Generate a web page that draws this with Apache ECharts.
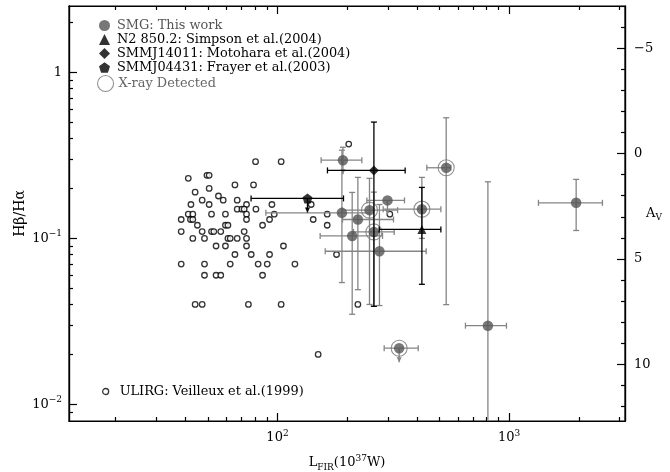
<!DOCTYPE html>
<html><head><meta charset="utf-8">
<script src="https://cdn.jsdelivr.net/npm/echarts@6/dist/echarts.min.js"></script>
<style>html,body{margin:0;padding:0;background:#fff}#c{width:670px;height:472px}</style>
</head><body><div id="c"></div>
<script>
// ---------------- data ----------------
// ULIRG: Veilleux et al.(1999)
const ulirgL = [203, 80.4, 103.7, 49.6, 50.7, 41.2, 65.5, 78.8, 50.7, 44.1, 55.6,
  47.3, 58.3, 67.0,
  42.3, 50.7, 73.5, 94.6, 139.8,
  67.0, 70.2, 71.8, 80.7,
  41.2, 43.1, 51.9, 59.6, 73.5, 96.8, 163.9, 305.5,
  38.4, 42.1, 43.1, 73.5, 92.4, 142.6,
  45.1, 59.6, 61.1, 86.2, 163.9,
  38.4, 47.3, 51.9, 53.1, 56.9, 71.8,
  43.1, 48.4, 61.1, 62.5, 67.0, 73.5,
  54.3, 59.6, 73.5, 106.1,
  65.5, 77.0, 92.4, 179.8,
  38.4, 48.4, 62.5, 82.5, 90.3, 118.9,
  48.4, 54.3, 56.9, 86.2,
  44.1, 47.3, 74.9, 103.7, 222.3,
  149.8];
const ulirgR = [0.37, 0.29, 0.29, 0.24, 0.24, 0.23, 0.21, 0.21, 0.20, 0.19, 0.18,
  0.17, 0.17, 0.17,
  0.16, 0.16, 0.16, 0.16, 0.16,
  0.15, 0.15, 0.15, 0.15,
  0.14, 0.14, 0.14, 0.14, 0.14, 0.14, 0.14, 0.14,
  0.13, 0.13, 0.13, 0.13, 0.13, 0.13,
  0.12, 0.12, 0.12, 0.12, 0.12,
  0.11, 0.11, 0.11, 0.11, 0.11, 0.11,
  0.10, 0.10, 0.10, 0.10, 0.10, 0.10,
  0.09, 0.09, 0.09, 0.09,
  0.08, 0.08, 0.08, 0.08,
  0.07, 0.07, 0.07, 0.07, 0.07, 0.07,
  0.06, 0.06, 0.06, 0.06,
  0.04, 0.04, 0.04, 0.04, 0.04,
  0.02];

// SMG: This work  (L_FIR in 1e37 W, Hbeta/Halpha)
const smgL    = [191.6, 189.7, 222.3, 210.1, 275.5, 298.4, 249.5, 260.7, 420.0, 534.8, 809.4, 335.1, 1946];
const smgR    = [0.296, 0.1425, 0.130, 0.1035, 0.0837, 0.1694, 0.148, 0.1094, 0.150, 0.2664, 0.0298, 0.0218, 0.1638];
const smgLlo  = [154.3, 89.1, 190.8, 152.8, 160.7, 243.1, 190.0, 212.8, 285.9, 441.3, 647.6, 288.7, 1338];
const smgLhi  = [231.3, 250.0, 316.7, 284.0, 438.3, 353.3, 330.0, 319.0, 507.3, 560.0, 973.5, 404.9, 2527];
const smgRlo  = [0, 0.0542, 0.0491, 0.0349, 0.0394, 0, 0.040, 0.039, 0.100, 0.0399, 0.004, 0, 0.1116];
const smgRhi  = [0.354, 0.340, 0.2331, 0.1892, 0.160, 0, 0.230, 0.190, 0.2331, 0.533, 0.2193, 0, 0.2267];
const smgLimit = [1, 0, 0, 0, 0, 1, 0, 0, 0, 0, 0, 1, 0];
const smgXray  = [0, 0, 0, 0, 0, 0, 1, 1, 1, 1, 0, 1, 0];

// Other SMGs from the literature
const otherNames = ['N2 850.2: Simpson et al.(2004)', 'SMMJ14011: Motohara et al.(2004)', 'SMMJ04431: Frayer et al.(2003)'];
const otherL   = [420.0, 260.7, 134.7];
const otherR   = [0.1132, 0.2569, 0.1741];
const otherLlo = [274.8, 164.3, 76.9];
const otherLhi = [507.3, 355.7, 192.7];
const otherRlo = [0.0529, 0.0390, 0];
const otherRhi = [0.2028, 0.5020, 0];
const otherLimit = [0, 0, 1];

// axis ticks
const xMajor = [100, 1000];
const xMinor = [20, 30, 40, 50, 60, 70, 80, 90, 200, 300, 400, 500, 600, 700, 800, 900, 2000, 3000];
const yMajor = [0.01, 0.1, 1];
const yMinor = [0.009, 0.02, 0.03, 0.04, 0.05, 0.06, 0.07, 0.08, 0.09, 0.2, 0.3, 0.4, 0.5, 0.6, 0.7, 0.8, 0.9, 2];
const avMajor = [-5, 0, 5, 10];
const avMinor = [-7, -6, -4, -3, -2, -1, 1, 2, 3, 4, 6, 7, 8, 9, 11, 12];

// ---------------- chart ----------------
const FONT = 'DejaVu Serif';
const SMG_COL = '#555555';
const ERR_COL = '#858585';
const XMIN = Math.pow(10, 1.1), XMAX = Math.pow(10, 3.5);
const YMIN = Math.pow(10, -2.1), YMAX = Math.pow(10, 0.4);

function errRender(color) {
  return function (params, api) {
    const x = api.value(0), y = api.value(1);
    const xlo = api.value(2), xhi = api.value(3), ylo = api.value(4), yhi = api.value(5), lim = api.value(6);
    const p = api.coord([x, y]);
    const st = { stroke: color, lineWidth: 1.3 };
    const ch = [];
    const cap = 3;
    if (xlo > 0 && xhi > 0) {
      const a = api.coord([xlo, y]), b = api.coord([xhi, y]);
      ch.push({ type: 'line', shape: { x1: a[0], y1: a[1], x2: b[0], y2: b[1] }, style: st });
      ch.push({ type: 'line', shape: { x1: a[0], y1: a[1] - cap, x2: a[0], y2: a[1] + cap }, style: st });
      ch.push({ type: 'line', shape: { x1: b[0], y1: b[1] - cap, x2: b[0], y2: b[1] + cap }, style: st });
    }
    if (yhi > 0) {
      const a = api.coord([x, yhi]);
      ch.push({ type: 'line', shape: { x1: p[0], y1: p[1], x2: a[0], y2: a[1] }, style: st });
      ch.push({ type: 'line', shape: { x1: a[0] - cap, y1: a[1], x2: a[0] + cap, y2: a[1] }, style: st });
    }
    if (ylo > 0) {
      const a = api.coord([x, ylo]);
      ch.push({ type: 'line', shape: { x1: p[0], y1: p[1], x2: a[0], y2: a[1] }, style: st });
      ch.push({ type: 'line', shape: { x1: a[0] - cap, y1: a[1], x2: a[0] + cap, y2: a[1] }, style: st });
    }
    if (lim) {
      const L = 14;
      ch.push({ type: 'line', shape: { x1: p[0], y1: p[1], x2: p[0], y2: p[1] + L }, style: st });
      ch.push({ type: 'polygon', shape: { points: [[p[0] - 2.5, p[1] + L - 5], [p[0] + 2.5, p[1] + L - 5], [p[0], p[1] + L]] }, style: { fill: color } });
    }
    return { type: 'group', children: ch };
  };
}

const smgErrData = smgL.map((v, i) => [v, smgR[i], smgLlo[i], smgLhi[i], smgRlo[i], smgRhi[i], smgLimit[i]]);
const otherErrData = otherL.map((v, i) => [v, otherR[i], otherLlo[i], otherLhi[i], otherRlo[i], otherRhi[i], otherLimit[i]]);
const smgPts = smgL.map((v, i) => [v, smgR[i]]);
const xrayPts = smgL.map((v, i) => [v, smgR[i]]).filter((d, i) => smgXray[i]);
const ulirgPts = ulirgL.map((v, i) => [v, ulirgR[i]]);

const PENT = 'path://M0,-1 L0.951,-0.309 L0.588,0.809 L-0.588,0.809 L-0.951,-0.309 Z';

const rich = {
  b: { fontFamily: FONT, fontSize: 13, color: '#000' },
  s: { fontFamily: FONT, fontSize: 9, color: '#000', padding: [0, 0, 9, 0] },
  sub: { fontFamily: FONT, fontSize: 9, color: '#000', padding: [9, 0, 0, 0] }
};

function logAxisX(pos, major, labels) {
  return {
    type: 'log', logBase: 10, min: XMIN, max: XMAX, position: pos, gridIndex: 0,
    nameMoveOverlap: false,
    axisLine: { show: true, onZero: false, lineStyle: { color: '#000', width: 1.2 } },
    axisTick: { show: true, inside: true, length: major ? 8 : 4, customValues: major ? xMajor : xMinor, lineStyle: { color: '#000', width: 1.2 } },
    axisLabel: labels ? {
      show: true, customValues: xMajor, margin: 8, rich: rich,
      formatter: v => '{b|10}{s|' + Math.round(Math.log10(v)) + '}'
    } : { show: false },
    splitLine: { show: false }, minorTick: { show: false }
  };
}
function logAxisY(major, labels) {
  return {
    type: 'log', logBase: 10, min: YMIN, max: YMAX, position: 'left', gridIndex: 0,
    nameMoveOverlap: false,
    axisLine: { show: true, onZero: false, lineStyle: { color: '#000', width: 1.2 } },
    axisTick: { show: true, inside: true, length: major ? 8 : 4, customValues: major ? yMajor : yMinor, lineStyle: { color: '#000', width: 1.2 } },
    axisLabel: labels ? {
      show: true, customValues: yMajor, margin: 7, rich: rich,
      formatter: v => { const e = Math.round(Math.log10(v)); return e === 0 ? '{b|1}' : '{b|10}{s|\u2212' + (-e) + '}'; }
    } : { show: false },
    splitLine: { show: false },
    name: labels ? 'H\u03b2/H\u03b1' : '', nameLocation: 'middle', nameGap: 42, nameRotate: 90,
    nameTextStyle: { fontFamily: FONT, fontSize: 14, color: '#000' }
  };
}
function avAxis(major) {
  return {
    type: 'value', min: -7, max: 12.69, inverse: true, position: 'right', gridIndex: 0,
    nameMoveOverlap: false,
    axisLine: { show: true, onZero: false, lineStyle: { color: '#000', width: 1.2 } },
    axisTick: { show: true, inside: true, length: major ? 8 : 4, customValues: major ? avMajor : avMinor, lineStyle: { color: '#000', width: 1.2 } },
    axisLabel: major ? { show: true, customValues: avMajor, margin: 9, fontFamily: FONT, fontSize: 13, color: '#000',
      formatter: v => (v < 0 ? '\u2212' + (-v) : '' + v) } : { show: false },
    splitLine: { show: false },
    name: major ? '{b|A}{sub|V}' : '', nameLocation: 'middle', nameRotate: 0, nameGap: 21,
    nameTextStyle: { rich: rich, align: 'left' }
  };
}

const xAx0 = logAxisX('bottom', true, true);
xAx0.name = '{b|L}{sub|FIR}{b|(10}{s|37}{b|W)}';
xAx0.nameLocation = 'middle';
xAx0.nameGap = 33;
xAx0.nameTextStyle = { rich: rich };

const option = {
  animation: false,
  backgroundColor: '#fff',
  grid: { left: 69, top: 6, right: 45, bottom: 51, show: true, borderColor: '#000', borderWidth: 1.2,
    containLabel: false, outerBoundsMode: 'none' },
  xAxis: [xAx0, logAxisX('bottom', false, false), logAxisX('top', true, false), logAxisX('top', false, false)],
  yAxis: [logAxisY(true, true), logAxisY(false, false), avAxis(true), avAxis(false)],
  legend: [
    {
      left: 94, top: 14, orient: 'vertical', itemGap: 1, itemWidth: 11, itemHeight: 11,
      textStyle: { fontFamily: FONT, fontSize: 12.9, lineHeight: 13, color: '#000', padding: [0, 0, 0, 2] },
      data: [
        { name: 'SMG: This work', textStyle: { color: SMG_COL } },
        { name: otherNames[0] }, { name: otherNames[1] }, { name: otherNames[2] }
      ]
    },
    {
      left: 92, top: 70, orient: 'vertical', itemWidth: 16, itemHeight: 16,
      textStyle: { fontFamily: FONT, fontSize: 12.9, color: '#666', padding: [0, 0, 0, 0] },
      data: [{ name: 'X-ray Detected', icon: 'circle', itemStyle: { color: '#fff', borderColor: '#777', borderWidth: 1.1 } }]
    },
    {
      left: 97, top: 380, orient: 'vertical', itemWidth: 6, itemHeight: 6,
      textStyle: { fontFamily: FONT, fontSize: 12.9, color: '#000', padding: [0, 0, 0, 6] },
      data: [{ name: 'ULIRG: Veilleux et al.(1999)', icon: 'circle', itemStyle: { color: '#fff', borderColor: '#000', borderWidth: 1.3 } }]
    }
  ],
  series: [
    {
      name: 'ULIRG: Veilleux et al.(1999)', type: 'scatter', xAxisIndex: 0, yAxisIndex: 0,
      data: ulirgPts, symbol: 'circle', symbolSize: 5.5,
      itemStyle: { color: '#fff', borderColor: '#000', borderWidth: 1.3 }, z: 2
    },
    {
      name: 'smgErr', type: 'custom', xAxisIndex: 0, yAxisIndex: 0, clip: true,
      renderItem: errRender(ERR_COL), data: smgErrData, z: 3
    },
    {
      name: 'SMG: This work', type: 'scatter', xAxisIndex: 0, yAxisIndex: 0,
      data: smgPts, symbol: 'circle', symbolSize: 10.5, itemStyle: { color: SMG_COL }, z: 4
    },
    {
      name: 'X-ray Detected', type: 'scatter', xAxisIndex: 0, yAxisIndex: 0,
      data: xrayPts, symbol: 'circle', symbolSize: 16,
      itemStyle: { color: 'rgba(0,0,0,0)', borderColor: '#777', borderWidth: 1.1 }, z: 4
    },
    {
      name: 'otherErr', type: 'custom', xAxisIndex: 0, yAxisIndex: 0, clip: true,
      renderItem: errRender('#000'), data: otherErrData, z: 5
    },
    {
      name: otherNames[0], type: 'scatter', xAxisIndex: 0, yAxisIndex: 0,
      data: [[otherL[0], otherR[0]]], symbol: 'triangle', symbolSize: 9, itemStyle: { color: '#000' }, z: 6
    },
    {
      name: otherNames[1], type: 'scatter', xAxisIndex: 0, yAxisIndex: 0,
      data: [[otherL[1], otherR[1]]], symbol: 'diamond', symbolSize: 10, itemStyle: { color: '#000' }, z: 6
    },
    {
      name: otherNames[2], type: 'scatter', xAxisIndex: 0, yAxisIndex: 0,
      data: [[otherL[2], otherR[2]]], symbol: PENT, symbolSize: 10, itemStyle: { color: '#000' }, z: 6
    }
  ]
};
const chart = echarts.init(document.getElementById('c'), null, { renderer: 'canvas' });
chart.setOption(option);
</script>
</body></html>
